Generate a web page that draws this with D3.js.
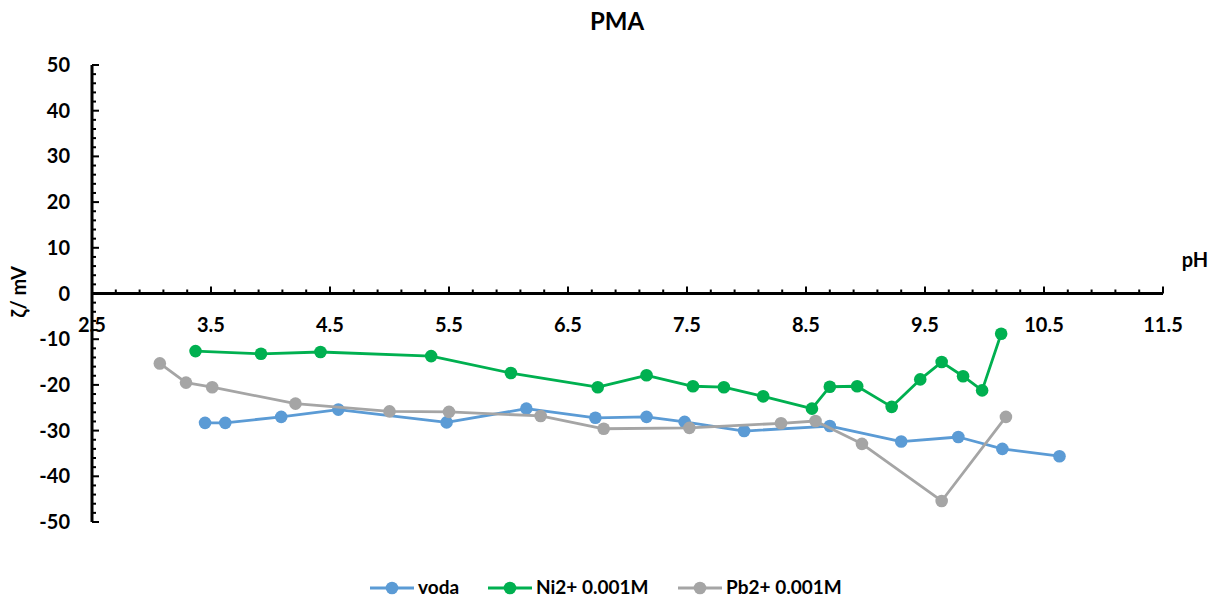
<!DOCTYPE html>
<html>
<head>
<meta charset="utf-8">
<script src="https://cdn.jsdelivr.net/npm/d3@7"></script>
<style>
  html, body { margin: 0; padding: 0; background: #fff; }
  svg text { font-family: Lato, "Open Sans", "Liberation Sans", sans-serif; font-weight: bold; fill: #000; }
</style>
</head>
<body>
<svg id="chart" width="1213" height="599"></svg>
<script>
const seriesNames = ["voda", "Ni2+ 0.001M", "Pb2+ 0.001M"];
const seriesColors = ["#5B9BD5", "#00B050", "#A5A5A5"];

const vodaX = [3.45, 3.62, 4.09, 4.57, 5.48, 6.15, 6.73, 7.16, 7.48, 7.98, 8.70, 9.30, 9.78, 10.15, 10.63];
const vodaY = [-28.3, -28.3, -27.0, -25.4, -28.2, -25.2, -27.2, -27.0, -28.1, -30.1, -29.0, -32.4, -31.4, -34.0, -35.6];

const niX = [3.37, 3.92, 4.42, 5.35, 6.02, 6.75, 7.16, 7.55, 7.81, 8.14, 8.55, 8.70, 8.93, 9.22, 9.46, 9.64, 9.82, 9.98, 10.14];
const niY = [-12.6, -13.2, -12.8, -13.7, -17.4, -20.5, -17.9, -20.3, -20.5, -22.5, -25.2, -20.4, -20.3, -24.8, -18.8, -15.0, -18.1, -21.2, -8.8];

const pbX = [3.07, 3.29, 3.51, 4.21, 5.00, 5.50, 6.27, 6.80, 7.52, 8.29, 8.58, 8.97, 9.64, 10.18];
const pbY = [-15.3, -19.5, -20.5, -24.1, -25.8, -25.9, -26.8, -29.6, -29.4, -28.4, -27.9, -32.9, -45.4, -27.0];

const xTickLabels = [2.5, 3.5, 4.5, 5.5, 6.5, 7.5, 8.5, 9.5, 10.5, 11.5];
const yTickLabels = [50, 40, 30, 20, 10, 0, -10, -20, -30, -40, -50];

const title = "PMA";
const xTitle = "pH";
const yTitle = "ζ/ mV";

const series = [
  {name: seriesNames[0], color: seriesColors[0], pts: vodaX.map((x, i) => [x, vodaY[i]])},
  {name: seriesNames[1], color: seriesColors[1], pts: niX.map((x, i) => [x, niY[i]])},
  {name: seriesNames[2], color: seriesColors[2], pts: pbX.map((x, i) => [x, pbY[i]])}
];

const svg = d3.select("#chart");
const x = d3.scaleLinear().domain([2.5, 11.5]).range([92, 1163]);
const y = d3.scaleLinear().domain([-50, 50]).range([522, 65]);

// Title
svg.append("text").attr("x", 617).attr("y", 30).attr("text-anchor", "middle")
  .style("font-size", "24px").text(title);

// Y axis ticks
const yMinor = d3.range(-50, 50.001, 2);
const yMajorSet = new Set(yTickLabels);
svg.append("g").selectAll("line").data(yMinor).join("line")
  .attr("x1", x(2.5)).attr("x2", d => x(2.5) + (yMajorSet.has(d) ? 7 : 4))
  .attr("y1", d => y(d)).attr("y2", d => y(d))
  .attr("stroke", "#000").attr("stroke-width", 2);

// X axis ticks (upwards)
const xMinor = d3.range(0, 45.5, 1).map(i => 2.5 + i * 0.2);
svg.append("g").selectAll("line").data(xMinor).join("line")
  .attr("x1", d => x(d)).attr("x2", d => x(d))
  .attr("y1", y(0)).attr("y2", (d, i) => y(0) - (i % 5 === 0 ? 7 : 4))
  .attr("stroke", "#000").attr("stroke-width", 2);

// Axis lines
svg.append("line").attr("x1", x(2.5)).attr("x2", x(2.5)).attr("y1", y(50)).attr("y2", y(-50))
  .attr("stroke", "#000").attr("stroke-width", 3);
svg.append("line").attr("x1", x(2.5)).attr("x2", x(11.5)).attr("y1", y(0)).attr("y2", y(0))
  .attr("stroke", "#000").attr("stroke-width", 3);

// Y tick labels
svg.append("g").selectAll("text").data(yTickLabels).join("text")
  .attr("x", 70).attr("y", d => y(d) + 7).attr("text-anchor", "end")
  .style("font-size", "20px").text(d => d);

// X tick labels
svg.append("g").selectAll("text").data(xTickLabels).join("text")
  .attr("x", d => x(d)).attr("y", 332).attr("text-anchor", "middle")
  .style("font-size", "20px").text(d => d.toFixed(1));

// Axis titles
svg.append("text").attr("x", 1195).attr("y", 267).attr("text-anchor", "middle")
  .style("font-size", "20px").text(xTitle);
svg.append("text").attr("transform", "translate(26,292) rotate(-90)").attr("text-anchor", "middle")
  .style("font-size", "20px").text(yTitle);

// Series
const line = d3.line().x(d => x(d[0])).y(d => y(d[1]));
series.forEach(s => {
  const g = svg.append("g");
  g.append("path").datum(s.pts).attr("d", line).attr("fill", "none")
    .attr("stroke", s.color).attr("stroke-width", 2.8).attr("stroke-linejoin", "round");
  g.selectAll("circle").data(s.pts).join("circle")
    .attr("cx", d => x(d[0])).attr("cy", d => y(d[1])).attr("r", 6.3)
    .attr("fill", s.color);
});

// Legend
const legendPos = [370, 488, 678];
series.forEach((s, i) => {
  const lx = legendPos[i];
  const ly = 588;
  svg.append("line").attr("x1", lx).attr("x2", lx + 44).attr("y1", ly).attr("y2", ly)
    .attr("stroke", s.color).attr("stroke-width", 2.8);
  svg.append("circle").attr("cx", lx + 22).attr("cy", ly).attr("r", 6.3).attr("fill", s.color);
  svg.append("text").attr("x", lx + 48).attr("y", ly + 6).style("font-size", "19px").text(s.name);
});
</script>
</body>
</html>
